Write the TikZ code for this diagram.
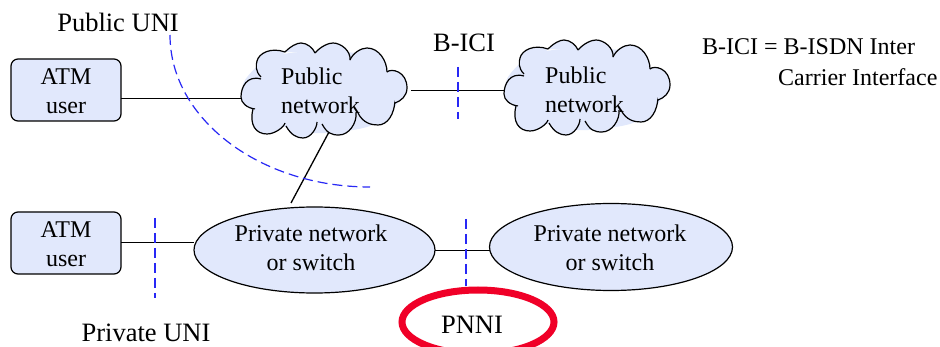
\documentclass[tikz,border=0pt]{standalone}
\usepackage{fontspec}
\setmainfont{Liberation Serif}
\usetikzlibrary{shapes.geometric}
\definecolor{paleblue}{RGB}{225,232,252}
\definecolor{dashblue}{RGB}{40,40,245}
\definecolor{ringred}{RGB}{240,0,40}
\newcommand{\cloudshape}{%
  \fill[paleblue] plot[smooth cycle] coordinates {(4,37) (30,14) (80,8) (130,14) (160,45) (152,66) (126,84) (70,90) (20,75) (3,55)};
  \draw[lobe] (20,36) .. controls (6,32) and (0,44) .. (0,54) .. controls (0,60) and (6,65) .. (14,66);
  \draw[lobe] (12,66) .. controls (8,82) and (15,91) .. (26,91) .. controls (34,91) and (43,84) .. (44,80);
  \draw[lobe] (45,83) .. controls (50,92) and (56,95) .. (62,95) .. controls (70,95) and (76,85) .. (76,79);
  \draw[lobe] (81,81) .. controls (86,90) and (90,92) .. (98,92) .. controls (108,92) and (116,80) .. (115,70);
  \draw[lobe] (117,70) .. controls (122,80) and (130,82) .. (137,82) .. controls (146,82) and (154,72) .. (154,55);
  \draw[lobe] (146,29) .. controls (150,25) and (166,28) .. (166,45) .. controls (166,53) and (160,58) .. (154,60);
  \draw[lobe] (109,17) .. controls (112,10) and (120,5) .. (126,5) .. controls (138,5) and (146,18) .. (146,29);
  \draw[lobe] (74,10) .. controls (80,3) and (88,0) .. (92,0) .. controls (100,0) and (110,8) .. (109,17);
  \draw[lobe] (44,9) .. controls (50,3) and (56,0) .. (60,0) .. controls (66,0) and (72,5) .. (74,10);
  \draw[lobe] (20,34) .. controls (14,28) and (15,22) .. (16,18) .. controls (18,10) and (30,4) .. (44,9);
}
\tikzset{
  lobe/.style={draw=black,line width=1.2pt,fill=paleblue},
  label/.style={font=\fontsize{24}{29}\selectfont,inner sep=0pt,align=center},
  biglabel/.style={font=\fontsize{26.5}{30}\selectfont,inner sep=0pt},
  userbox/.style={draw=black,line width=1.2pt,fill=paleblue,rounded corners=7pt,minimum width=110pt,minimum height=62pt,inner sep=0pt},
  privnet/.style={ellipse,draw=black,line width=1.2pt,fill=paleblue,inner sep=0pt},
  link/.style={draw=black,line width=1.3pt},
  iface/.style={draw=dashblue,line width=1.2pt,dash pattern=on 10pt off 5pt},
  ring/.style={ellipse,draw=ringred,line width=7pt,minimum width=152pt,minimum height=64pt,inner sep=0pt},
}
\begin{document}
\begin{tikzpicture}[x=1pt,y=-1pt]
\useasboundingbox (0,0) rectangle (940,347);
\clip (0,0) rectangle (940,347);
\fill[white] (0,0) rectangle (940,347);
% clouds
\begin{scope}[shift={(241,43)}]\cloudshape\end{scope}
\begin{scope}[shift={(504,40)}]\cloudshape\end{scope}
% nodes
\node[userbox] (atmA) at (66,90) {};
\node[userbox] (atmB) at (66,243) {};
\node[label] (atmAt) at (66,91) {ATM\\user};
\node[label] (atmBt) at (66,244) {ATM\\user};
\node[label,anchor=west,align=left] (cloudA) at (281,91) {Public\\network};
\node[label,anchor=west,align=left] (cloudB) at (545,90) {Public\\network};
\node[privnet,minimum width=241pt,minimum height=86pt] (privA) at (314.5,250) {};
\node[privnet,minimum width=243pt,minimum height=87pt] (privB) at (611,247) {};
\node[label] (privAt) at (311,248) {Private network\\or switch};
\node[label] (privBt) at (610,248) {Private network\\or switch};
\node[ring] (ringN) at (478,322) {};
\node[biglabel] (pnni) at (472,325) {PNNI};
\node[biglabel] (pubuni) at (118,22) {Public UNI};
\node[biglabel] (bici) at (464,43) {B-ICI};
\node[biglabel] (privuni) at (146,333) {Private UNI};
\node[label,anchor=west] (legA) at (702,47) {B-ICI = B-ISDN Inter};
\node[label,anchor=west] (legB) at (778,77) {Carrier Interface};
% connector ends
\coordinate (cloudAw) at (241,98.5);
\coordinate (cloudAe) at (411,90.5);
\coordinate (cloudAs) at (329,132);
\coordinate (cloudBw) at (504,90.5);
\coordinate (privAn) at (291,203);
\coordinate (privAe) at (435,250.5);
\coordinate (privBw) at (490,250.5);
\coordinate (privAw) at (194,242.5);
\coordinate (atmBe) at (121,242.5);
\coordinate (atmAe) at (121,98.5);
% connectors
\draw[link] (atmAe) -- (cloudAw);
\draw[link] (cloudAe) -- (cloudBw);
\draw[link] (cloudAs) -- (privAn);
\draw[link] (atmBe) -- (privAw);
\draw[link] (privAe) -- (privBw);
% interface markers
\coordinate (uniT) at (170,35);
\coordinate (uniE) at (370,187);
\draw[iface] (uniT) .. controls (170,119) and (260,187) .. (uniE);
\coordinate (iciT) at (458,67);
\coordinate (iciB) at (458,119);
\draw[iface] (iciT) -- (iciB);
\coordinate (puT) at (155,218);
\coordinate (puB) at (155,298);
\draw[iface] (puT) -- (puB);
\coordinate (pnT) at (466,219);
\coordinate (pnB) at (466,286);
\draw[iface] (pnT) -- (pnB);
\end{tikzpicture}
\end{document}
